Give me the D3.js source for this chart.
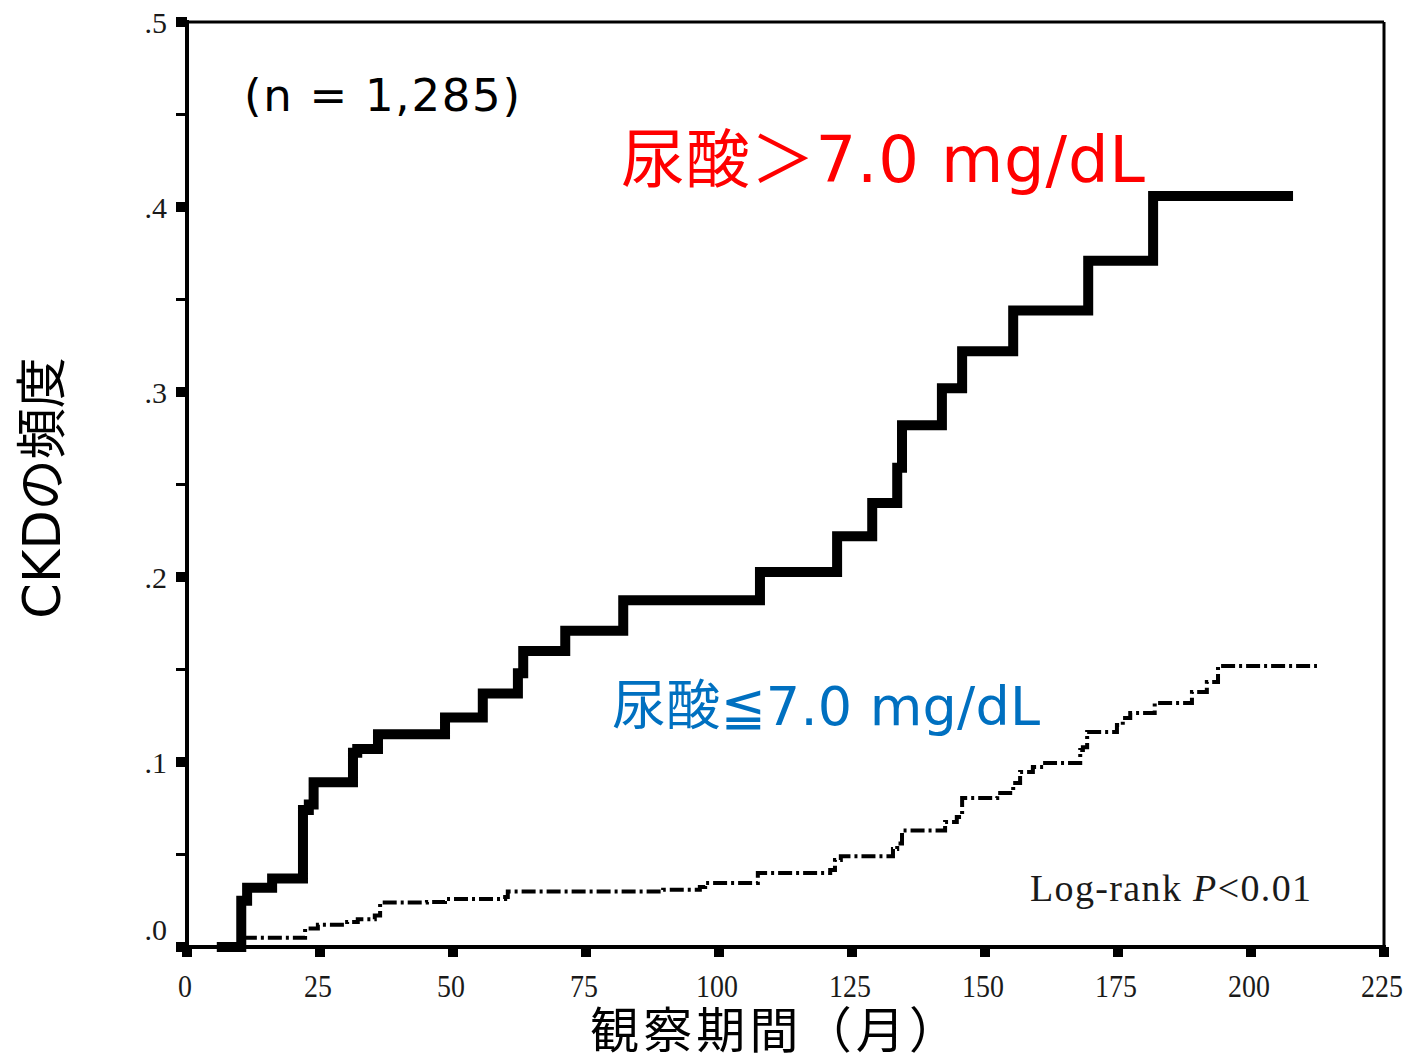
<!DOCTYPE html>
<html>
<head>
<meta charset="utf-8">
<script src="https://cdn.jsdelivr.net/npm/d3@7"></script>
<style>
  html, body { margin: 0; padding: 0; background: #fff; }
  svg { display: block; }
</style>
</head>
<body>
<svg id="chart" width="1412" height="1060"></svg>
<script>
// Cumulative CKD incidence (Kaplan–Meier style), serum uric acid > 7.0 mg/dL
const highUaMonths = [5.6, 10.2, 11.3, 16.0, 21.8, 22.9, 23.8, 31.2, 32.0, 35.9, 48.5, 55.6, 62.2, 63.2, 71.1, 82.0, 107.7, 122.2, 128.8, 133.5, 134.4, 141.9, 145.7, 155.3, 169.4, 181.6, 207.9];
const highUaRisk   = [0.000, 0.025, 0.032, 0.037, 0.074, 0.077, 0.089, 0.105, 0.107, 0.115, 0.124, 0.137, 0.148, 0.160, 0.171, 0.1875, 0.2027, 0.222, 0.240, 0.259, 0.282, 0.302, 0.322, 0.344, 0.371, 0.406, 0.406];

// Cumulative CKD incidence, serum uric acid <= 7.0 mg/dL
const lowUaMonths = [10.5, 22.2, 24.6, 30.1, 32.1, 35.3, 36.3, 45.1, 48.5, 59.8, 60.3, 89.5, 96.4, 97.4, 107.3, 120.9, 121.8, 122.9, 132.7, 133.5, 134.4, 142.5, 144.7, 145.7, 152.3, 155.3, 156.6, 159.0, 161.3, 167.9, 168.4, 169.2, 174.8, 175.9, 177.3, 181.9, 188.9, 191.7, 193.8, 212.4];
const lowUaRisk   = [0.005, 0.010, 0.012, 0.0135, 0.015, 0.017, 0.024, 0.0243, 0.026, 0.027, 0.030, 0.031, 0.0324, 0.0346, 0.040, 0.0416, 0.047, 0.049, 0.053, 0.056, 0.063, 0.0676, 0.0703, 0.0805, 0.0832, 0.0886, 0.0946, 0.0973, 0.0995, 0.1065, 0.108, 0.1162, 0.120, 0.1238, 0.1265, 0.1319, 0.1378, 0.1432, 0.1519, 0.1519];

const xTicks = [0, 25, 50, 75, 100, 125, 150, 175, 200, 225];
const xTickLabels = ["0", "25", "50", "75", "100", "125", "150", "175", "200", "225"];
const yTicks = [0, 0.1, 0.2, 0.3, 0.4, 0.5];
const yTickLabels = [".0", ".1", ".2", ".3", ".4", ".5"];
const yMinorTicks = [0.05, 0.15, 0.25, 0.35, 0.45];

(function draw() {
  const svg = d3.select("#chart");

  const plotL = 187, plotR = 1384, plotT = 22, plotB = 947;
  const x = d3.scaleLinear().domain([0, 225]).range([plotL, plotR]);
  const y = d3.scaleLinear().domain([0, 0.5]).range([plotB, plotT]);

  const serif = "'Liberation Serif', 'Times New Roman', serif";
  const sans = "'DejaVu Sans', 'Noto Sans CJK JP', sans-serif";

  // frame: top and right edges
  svg.append("line").attr("x1", plotL).attr("x2", plotR).attr("y1", plotT).attr("y2", plotT)
    .attr("stroke", "#000").attr("stroke-width", 3);
  svg.append("line").attr("x1", plotR).attr("x2", plotR).attr("y1", plotT).attr("y2", plotB)
    .attr("stroke", "#000").attr("stroke-width", 3);

  // y axis: line, block ticks for majors, thin ticks for minors
  svg.append("line").attr("x1", plotL).attr("x2", plotL).attr("y1", plotT - 2).attr("y2", plotB + 2)
    .attr("stroke", "#000").attr("stroke-width", 4);
  svg.selectAll(".ymaj").data(yTicks).enter().append("rect")
    .attr("x", plotL - 11).attr("width", 11)
    .attr("y", d => y(d) - 5).attr("height", 10).attr("fill", "#000");
  svg.selectAll(".ymin").data(yMinorTicks).enter().append("line")
    .attr("x1", plotL - 11).attr("x2", plotL)
    .attr("y1", d => y(d)).attr("y2", d => y(d))
    .attr("stroke", "#000").attr("stroke-width", 3);
  svg.selectAll(".ylab").data(yTicks).enter().append("text")
    .attr("x", 167)
    .attr("y", d => y(d) + (d === 0 ? -7 : 11))
    .attr("text-anchor", "end")
    .attr("font-family", serif).attr("font-size", 30).attr("fill", "#1a1a1a")
    .text((d, i) => yTickLabels[i]);

  // x axis
  svg.append("line").attr("x1", plotL - 2).attr("x2", plotR + 2).attr("y1", plotB).attr("y2", plotB)
    .attr("stroke", "#000").attr("stroke-width", 4);
  svg.selectAll(".xmaj").data(xTicks).enter().append("rect")
    .attr("x", d => x(d) - 5).attr("width", 10)
    .attr("y", plotB).attr("height", 10).attr("fill", "#000");
  svg.selectAll(".xlab").data(xTicks).enter().append("text")
    .attr("transform", d => `translate(${x(d) - 2},997) scale(0.9,1)`)
    .attr("text-anchor", "middle")
    .attr("font-family", serif).attr("font-size", 31).attr("fill", "#1a1a1a")
    .text((d, i) => xTickLabels[i]);

  // step curves
  const step = d3.line()
    .x(d => x(d[0]))
    .y(d => y(d[1]))
    .curve(d3.curveStepAfter);

  const lowPts = lowUaMonths.map((m, i) => [m, lowUaRisk[i]]);
  const highPts = highUaMonths.map((m, i) => [m, highUaRisk[i]]);

  svg.append("path").attr("d", step(lowPts))
    .attr("fill", "none").attr("stroke", "#000").attr("stroke-width", 4)
    .attr("stroke-dasharray", "14,4,3,4");

  svg.append("path").attr("d", step(highPts))
    .attr("fill", "none").attr("stroke", "#000").attr("stroke-width", 10)
    .attr("stroke-linejoin", "miter").attr("stroke-linecap", "butt");

  // annotations
  svg.append("text").attr("x", 244).attr("y", 111)
    .attr("font-family", sans).attr("font-size", 45).attr("fill", "#000")
    .attr("textLength", 276).attr("lengthAdjust", "spacing")
    .text("(n = 1,285)");

  svg.append("text").attr("x", 621).attr("y", 182)
    .attr("font-family", sans).attr("font-size", 64).attr("fill", "#FF0000")
    .attr("textLength", 524).attr("lengthAdjust", "spacing")
    .text("尿酸＞7.0 mg/dL");

  svg.append("text").attr("x", 612).attr("y", 725)
    .attr("font-family", sans).attr("font-size", 54).attr("fill", "#0070C0")
    .attr("textLength", 428).attr("lengthAdjust", "spacing")
    .text("尿酸≦7.0 mg/dL");

  const lr = svg.append("text").attr("x", 1030).attr("y", 901)
    .attr("font-family", serif).attr("font-size", 38).attr("fill", "#1a1a1a")
    .attr("textLength", 281).attr("lengthAdjust", "spacing");
  lr.append("tspan").text("Log-rank ");
  lr.append("tspan").attr("font-style", "italic").text("P");
  lr.append("tspan").text("<0.01");

  // axis titles
  svg.append("text")
    .attr("transform", "translate(60,488) rotate(-90)")
    .attr("text-anchor", "middle")
    .attr("font-family", sans).attr("font-size", 51).attr("fill", "#000")
    .text("CKDの頻度");

  svg.append("text").attr("x", 590).attr("y", 1048)
    .attr("font-family", sans).attr("font-size", 49).attr("fill", "#000")
    .attr("textLength", 368).attr("lengthAdjust", "spacing")
    .text("観察期間（月）");
})();
</script>
</body>
</html>
